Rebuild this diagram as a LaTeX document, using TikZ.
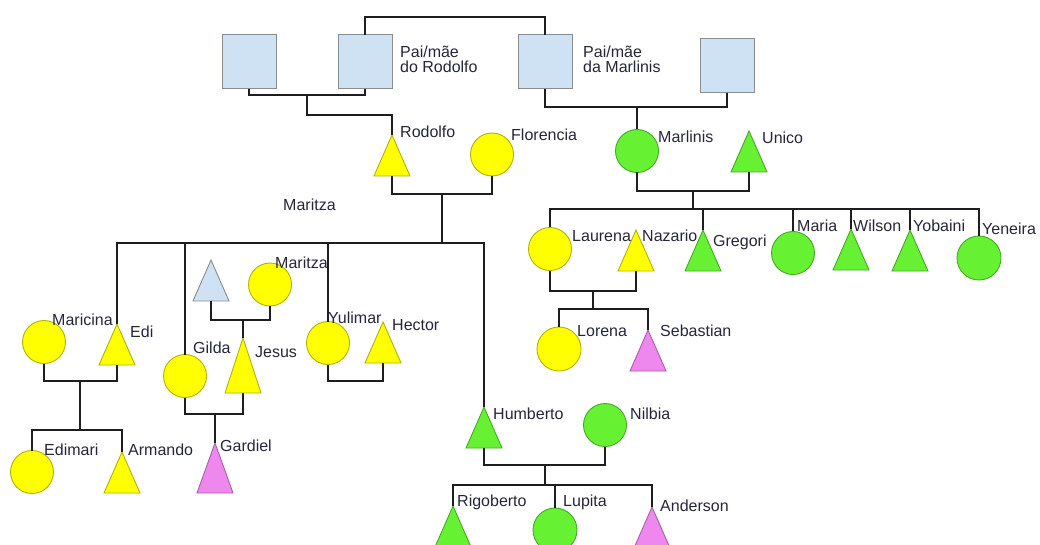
\documentclass[tikz,border=0pt]{standalone}
\usepackage{fontspec}
\setmainfont{Liberation Sans}
\usepackage{xcolor}
\usepackage{tikz}
\usetikzlibrary{
  positioning,
  shapes.geometric,
  calc
}
\definecolor{famyellow}{HTML}{FFFF00}
\definecolor{famgreen}{HTML}{66F233}
\definecolor{kidpink}{HTML}{EE88EE}
\definecolor{inlawblue}{HTML}{CFE2F3}
\definecolor{edgegrey}{HTML}{8C8C8C}
\definecolor{linkblack}{HTML}{1E1E1E}
\definecolor{labelink}{HTML}{26263A}
\tikzset{
  circbox/.style={
    circle, draw=#1!70!black, fill=#1, line width=0.9pt,
    minimum size=43pt, inner sep=0pt, outer sep=0pt
  },
  tribox/.style={
    isosceles triangle, isosceles triangle stretches,
    shape border rotate=90, draw=#1!70!black, fill=#1, line width=0.9pt,
    minimum width=36pt, minimum height=41pt, inner sep=0pt, outer sep=0pt,
    anchor=apex
  },
  parbox/.style={
    rectangle, draw=edgegrey, fill=inlawblue, line width=1pt,
    minimum size=54pt, inner sep=0pt, outer sep=0pt
  },
  namelab/.style={
    anchor=base west, inner sep=0pt, text=labelink,
    font=\fontsize{16}{15}\selectfont
  },
  famline/.style={
    line width=1.4pt, color=linkblack
  },
}

\begin{document}
\begin{tikzpicture}[x=1pt, y=-1pt]
  \useasboundingbox (0,0) rectangle (1040,545);
  \clip (0,0) rectangle (1040,545);

  \node[parbox] (avoR1) at (249,62) {};
  \node[parbox] (avoR2) at (365,62) {};
  \node[parbox] (avoM1) at (545,62) {};
  \node[parbox] (avoM2) at (727,66) {};
  \node[namelab, anchor=north west, align=left] (lAvoR) at (400,46) {Pai/mãe\\do Rodolfo};
  \node[namelab, anchor=north west, align=left] (lAvoM) at (583,46) {Pai/mãe\\da Marlinis};

  \node[tribox=famyellow] (rodolfo) at (392,135) {};
  \node[circbox=famyellow] (florencia) at (492,154.5) {};
  \node[circbox=famgreen] (marlinis) at (637,151) {};
  \node[tribox=famgreen] (unico) at (749,131) {};

  \node[circbox=famyellow] (laurena) at (550,249) {};
  \node[tribox=famyellow] (nazario) at (636,230) {};
  \node[tribox=famgreen] (gregori) at (703,230) {};
  \node[circbox=famgreen] (maria) at (793,253) {};
  \node[tribox=famgreen] (wilson) at (851,229) {};
  \node[tribox=famgreen] (yobaini) at (910,230) {};
  \node[circbox=famgreen, minimum size=44pt] (yeneira) at (979,258) {};
  \node[circbox=famyellow, minimum size=44pt] (lorena) at (559,349) {};
  \node[tribox=kidpink] (sebastian) at (648,330) {};

  \node[circbox=famyellow] (maricina) at (44,342) {};
  \node[tribox=famyellow] (edi) at (117,324) {};
  \node[circbox=famyellow] (edimari) at (32,472) {};
  \node[tribox=famyellow] (armando) at (122,452) {};
  \node[tribox=inlawblue, draw=edgegrey] (paiJesus) at (211,260) {};
  \node[circbox=famyellow] (maritza) at (270,284.5) {};
  \node[circbox=famyellow] (gilda) at (185,376) {};
  \node[tribox=famyellow, minimum height=55pt] (jesus) at (243,338) {};
  \node[tribox=kidpink, minimum height=50pt] (gardiel) at (215,443) {};
  \node[circbox=famyellow] (yulimar) at (328,343) {};
  \node[tribox=famyellow] (hector) at (383,322) {};

  \node[tribox=famgreen] (humberto) at (484,407) {};
  \node[circbox=famgreen] (nilbia) at (605,425) {};
  \node[tribox=famgreen] (rigoberto) at (453,506) {};
  \node[circbox=famgreen, minimum size=44pt] (lupita) at (555,530) {};
  \node[tribox=kidpink] (anderson) at (652,507) {};

  \node[namelab] (lRodolfo) at (400,138) {Rodolfo};
  \node[namelab] (lFlorencia) at (511,141) {Florencia};
  \node[namelab] (lMarlinis) at (658,143) {Marlinis};
  \node[namelab] (lUnico) at (762,144) {Unico};
  \node[namelab] (lMaritzaA) at (283,211) {Maritza};
  \node[namelab] (lLaurena) at (572,241) {Laurena};
  \node[namelab] (lNazario) at (642,241) {Nazario};
  \node[namelab] (lGregori) at (713,246) {Gregori};
  \node[namelab] (lMaria) at (797,232) {Maria};
  \node[namelab] (lWilson) at (853,232) {Wilson};
  \node[namelab] (lYobaini) at (913,232) {Yobaini};
  \node[namelab] (lYeneira) at (982,234) {Yeneira};
  \node[namelab] (lLorena) at (577,336) {Lorena};
  \node[namelab] (lSebastian) at (660,336) {Sebastian};
  \node[namelab] (lMaricina) at (52,325) {Maricina};
  \node[namelab] (lEdi) at (130,337) {Edi};
  \node[namelab] (lMaritzaB) at (275,268) {Maritza};
  \node[namelab] (lGilda) at (193,353) {Gilda};
  \node[namelab] (lJesus) at (255,357) {Jesus};
  \node[namelab] (lYulimar) at (328,323) {Yulimar};
  \node[namelab] (lHector) at (392,330) {Hector};
  \node[namelab] (lEdimari) at (44,455) {Edimari};
  \node[namelab] (lArmando) at (128,455) {Armando};
  \node[namelab] (lGardiel) at (220,451) {Gardiel};
  \node[namelab] (lHumberto) at (493,419) {Humberto};
  \node[namelab] (lNilbia) at (630,419) {Nilbia};
  \node[namelab] (lRigoberto) at (457,506) {Rigoberto};
  \node[namelab] (lLupita) at (563,506) {Lupita};
  \node[namelab] (lAnderson) at (660,511) {Anderson};

  \draw[famline] (avoR2.north) -- ++(0,-18) -| (avoM1.north);
  \coordinate (jAvoR) at (307,95);
  \draw[famline] (avoR1.south) |- (jAvoR) -| (avoR2.south);
  \draw[famline] (jAvoR) -- ++(0,20) -| (rodolfo.apex);
  \coordinate (jAvoM) at (637,107);
  \draw[famline] (avoM1.south) |- (jAvoM) -| (avoM2.south);
  \draw[famline] (jAvoM) -- (marlinis.north);

  \coordinate (jRF) at (442,194);
  \coordinate (busRF) at (442,243);
  \draw[famline] (rodolfo.lower side) |- (jRF) -| (florencia.south);
  \draw[famline] (jRF) -- (busRF);
  \draw[famline] (edi.apex) |- (busRF) -| (humberto.apex);
  \draw[famline] (gilda.north) -- (gilda.north |- busRF);
  \draw[famline] (yulimar.north) -- (yulimar.north |- busRF);

  \coordinate (jME) at (80,381);
  \coordinate (busME) at (80,430);
  \draw[famline] (maricina.south) |- (jME) -| (edi.lower side);
  \draw[famline] (jME) -- (busME);
  \draw[famline] (edimari.north) |- (busME) -| (armando.apex);

  \coordinate (jBM) at (243,320);
  \draw[famline] (paiJesus.lower side) |- (jBM) -| (maritza.south);
  \draw[famline] (jBM) -- (jesus.apex);
  \coordinate (jGJ) at (215,414);
  \draw[famline] (gilda.south) |- (jGJ) -| (jesus.lower side);
  \draw[famline] (jGJ) -- (gardiel.apex);
  \coordinate (jYH) at (355,381);
  \draw[famline] (yulimar.south) |- (jYH) -| (hector.lower side);

  \coordinate (jHN) at (545,465);
  \coordinate (busHN) at (545,485);
  \draw[famline] (humberto.lower side) |- (jHN) -| (nilbia.south);
  \draw[famline] (jHN) -- (busHN);
  \draw[famline] (rigoberto.apex) |- (busHN) -| (anderson.apex);
  \draw[famline] (lupita.north) -- (lupita.north |- busHN);

  \coordinate (jMU) at (693,191);
  \coordinate (busMU) at (693,209);
  \draw[famline] (marlinis.south) |- (jMU) -| (unico.lower side);
  \draw[famline] (jMU) -- (busMU);
  \draw[famline] (laurena.north) |- (busMU) -| (yeneira.north);
  \foreach \kid in {gregori.apex, maria.north, wilson.apex, yobaini.apex}
    \draw[famline] (\kid) -- (\kid |- busMU);

  \coordinate (jLN) at (593,291);
  \coordinate (busLN) at (593,309);
  \draw[famline] (laurena.south) |- (jLN) -| (nazario.lower side);
  \draw[famline] (jLN) -- (busLN);
  \draw[famline] (lorena.north) |- (busLN) -| (sebastian.apex);
\end{tikzpicture}
\end{document}
